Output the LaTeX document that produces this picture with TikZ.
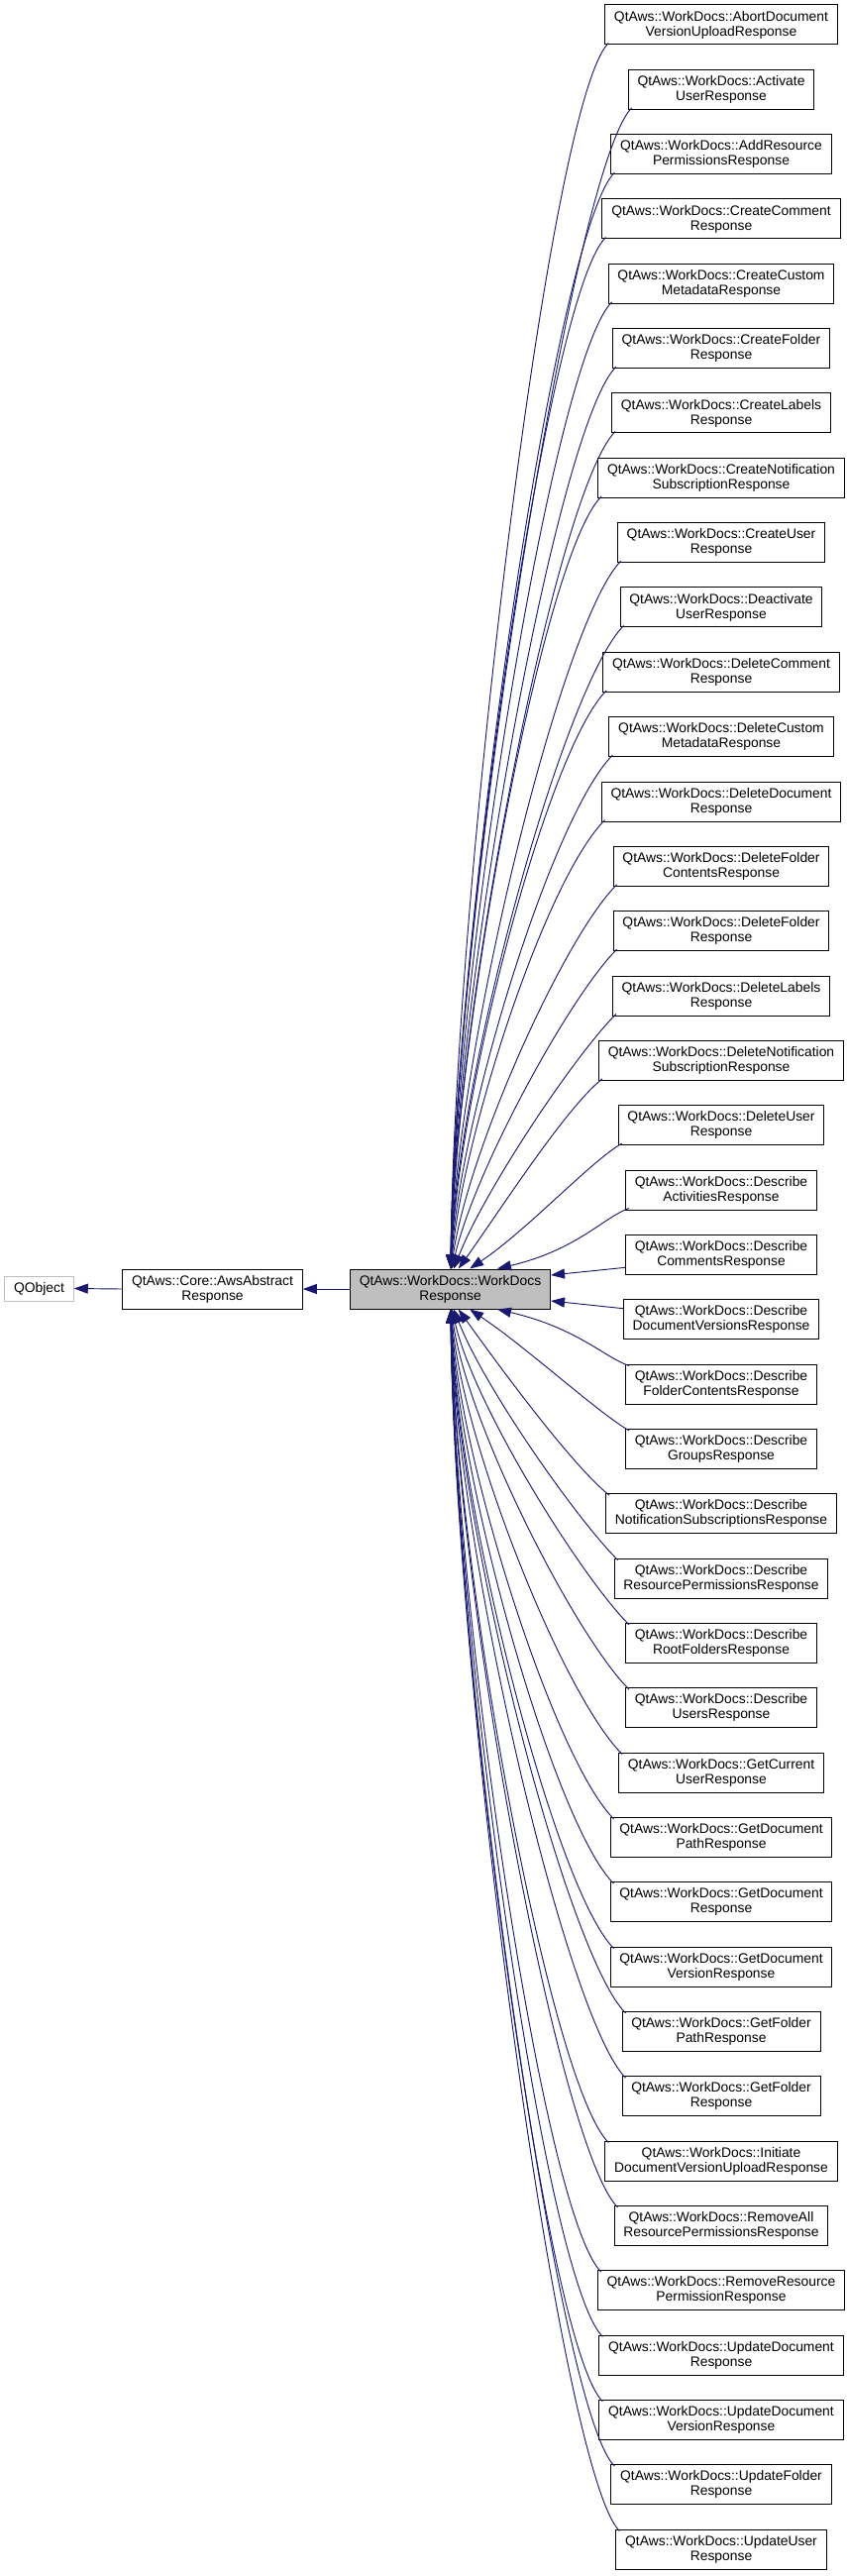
\documentclass[tikz,border=0pt]{standalone}
\usepackage{fontspec}
\setmainfont{Liberation Sans}
\usetikzlibrary{arrows.meta,calc}
\definecolor{edgeblue}{HTML}{191970}
\definecolor{boxgray}{HTML}{BFBFBF}
\begin{document}
\begin{tikzpicture}[x=0.75pt,y=-0.75pt,
  box/.style={draw=black, line width=0.75pt, fill=white, align=center,
    inner xsep=7pt, inner ysep=0pt, minimum height=30pt,
    font=\fontsize{10.4}{11.2}\selectfont},
  edge/.style={draw=edgeblue, line width=0.7pt,
    -{Triangle[length=10.5pt,width=7.5pt]}}]
\useasboundingbox (0,0) rectangle (855,2600);
\node[box, draw=boxgray, minimum height=18.75pt] (q) at (39.5,1300.5) {QObject};
\node[box] (a) at (214.5,1301) {QtAws::Core::AwsAbstract\\Response};
\node[box, fill=boxgray] (p) at (454.5,1301) {QtAws::WorkDocs::WorkDocs\\Response};
\node[box] (c0) at (728,{25+65.333*0}) {QtAws::WorkDocs::AbortDocument\\VersionUploadResponse};
\node[box] (c1) at (728,{25+65.333*1}) {QtAws::WorkDocs::Activate\\UserResponse};
\node[box] (c2) at (728,{25+65.333*2}) {QtAws::WorkDocs::AddResource\\PermissionsResponse};
\node[box] (c3) at (728,{25+65.333*3}) {QtAws::WorkDocs::CreateComment\\Response};
\node[box] (c4) at (728,{25+65.333*4}) {QtAws::WorkDocs::CreateCustom\\MetadataResponse};
\node[box] (c5) at (728,{25+65.333*5}) {QtAws::WorkDocs::CreateFolder\\Response};
\node[box] (c6) at (728,{25+65.333*6}) {QtAws::WorkDocs::CreateLabels\\Response};
\node[box] (c7) at (728,{25+65.333*7}) {QtAws::WorkDocs::CreateNotification\\SubscriptionResponse};
\node[box] (c8) at (728,{25+65.333*8}) {QtAws::WorkDocs::CreateUser\\Response};
\node[box] (c9) at (728,{25+65.333*9}) {QtAws::WorkDocs::Deactivate\\UserResponse};
\node[box] (c10) at (728,{25+65.333*10}) {QtAws::WorkDocs::DeleteComment\\Response};
\node[box] (c11) at (728,{25+65.333*11}) {QtAws::WorkDocs::DeleteCustom\\MetadataResponse};
\node[box] (c12) at (728,{25+65.333*12}) {QtAws::WorkDocs::DeleteDocument\\Response};
\node[box] (c13) at (728,{25+65.333*13}) {QtAws::WorkDocs::DeleteFolder\\ContentsResponse};
\node[box] (c14) at (728,{25+65.333*14}) {QtAws::WorkDocs::DeleteFolder\\Response};
\node[box] (c15) at (728,{25+65.333*15}) {QtAws::WorkDocs::DeleteLabels\\Response};
\node[box] (c16) at (728,{25+65.333*16}) {QtAws::WorkDocs::DeleteNotification\\SubscriptionResponse};
\node[box] (c17) at (728,{25+65.333*17}) {QtAws::WorkDocs::DeleteUser\\Response};
\node[box] (c18) at (728,{25+65.333*18}) {QtAws::WorkDocs::Describe\\ActivitiesResponse};
\node[box] (c19) at (728,{25+65.333*19}) {QtAws::WorkDocs::Describe\\CommentsResponse};
\node[box] (c20) at (728,{25+65.333*20}) {QtAws::WorkDocs::Describe\\DocumentVersionsResponse};
\node[box] (c21) at (728,{25+65.333*21}) {QtAws::WorkDocs::Describe\\FolderContentsResponse};
\node[box] (c22) at (728,{25+65.333*22}) {QtAws::WorkDocs::Describe\\GroupsResponse};
\node[box] (c23) at (728,{25+65.333*23}) {QtAws::WorkDocs::Describe\\NotificationSubscriptionsResponse};
\node[box] (c24) at (728,{25+65.333*24}) {QtAws::WorkDocs::Describe\\ResourcePermissionsResponse};
\node[box] (c25) at (728,{25+65.333*25}) {QtAws::WorkDocs::Describe\\RootFoldersResponse};
\node[box] (c26) at (728,{25+65.333*26}) {QtAws::WorkDocs::Describe\\UsersResponse};
\node[box] (c27) at (728,{25+65.333*27}) {QtAws::WorkDocs::GetCurrent\\UserResponse};
\node[box] (c28) at (728,{25+65.333*28}) {QtAws::WorkDocs::GetDocument\\PathResponse};
\node[box] (c29) at (728,{25+65.333*29}) {QtAws::WorkDocs::GetDocument\\Response};
\node[box] (c30) at (728,{25+65.333*30}) {QtAws::WorkDocs::GetDocument\\VersionResponse};
\node[box] (c31) at (728,{25+65.333*31}) {QtAws::WorkDocs::GetFolder\\PathResponse};
\node[box] (c32) at (728,{25+65.333*32}) {QtAws::WorkDocs::GetFolder\\Response};
\node[box] (c33) at (728,{25+65.333*33}) {QtAws::WorkDocs::Initiate\\DocumentVersionUploadResponse};
\node[box] (c34) at (728,{25+65.333*34}) {QtAws::WorkDocs::RemoveAll\\ResourcePermissionsResponse};
\node[box] (c35) at (728,{25+65.333*35}) {QtAws::WorkDocs::RemoveResource\\PermissionResponse};
\node[box] (c36) at (728,{25+65.333*36}) {QtAws::WorkDocs::UpdateDocument\\Response};
\node[box] (c37) at (728,{25+65.333*37}) {QtAws::WorkDocs::UpdateDocument\\VersionResponse};
\node[box] (c38) at (728,{25+65.333*38}) {QtAws::WorkDocs::UpdateFolder\\Response};
\node[box] (c39) at (728,{25+65.333*39}) {QtAws::WorkDocs::UpdateUser\\Response};

\draw[edge] (a.west) -- (q.east);
\draw[edge] (p.west) -- (a.east);

\foreach \i in {0,...,18}{
  \pgfmathsetmacro{\d}{18-\i}
  \pgfmathsetmacro{\dy}{1238-65.333*\i}
  \pgfmathsetmacro{\sh}{0.5+47*exp(-0.9*\d)}
  \pgfmathsetmacro{\a}{77*exp(-0.35*\d)+3}
  \pgfmathsetmacro{\b}{0.3*\dy}
  \pgfmathsetmacro{\h}{25+35*min(1,\d/6)}
  \pgfmathsetmacro{\v}{\h*min(1,0.35+0.22*\d)}
  \draw[edge] ($(c\i.south west)+(4,-2)$) .. controls ($(c\i.south west)+(4-\h,-2+\v)$) and ($(p.north)+(\sh+\a,-\b)$) .. ($(p.north)+(\sh,0)$);
}
\foreach \i in {21,...,39}{
  \pgfmathsetmacro{\m}{39-\i}
  \pgfmathsetmacro{\d}{\i-21}
  \pgfmathsetmacro{\dy}{1238-65.333*\m}
  \pgfmathsetmacro{\sh}{0.5+47*exp(-0.9*\d)}
  \pgfmathsetmacro{\a}{77*exp(-0.35*\d)+3}
  \pgfmathsetmacro{\b}{0.3*\dy}
  \pgfmathsetmacro{\h}{25+35*min(1,\d/6)}
  \pgfmathsetmacro{\v}{\h*min(1,0.35+0.22*\d)}
  \draw[edge] ($(c\i.north west)+(4,2)$) .. controls ($(c\i.north west)+(4-\h,2-\v)$) and ($(p.south)+(\sh+\a,\b)$) .. ($(p.south)+(\sh,0)$);
}
\draw[edge] ($(c19.west)+(0,13)$) -- ($(p.east)+(0,-14)$);
\draw[edge] ($(c20.west)+(0,-11)$) -- ($(p.east)+(0,12)$);
\end{tikzpicture}
\end{document}
